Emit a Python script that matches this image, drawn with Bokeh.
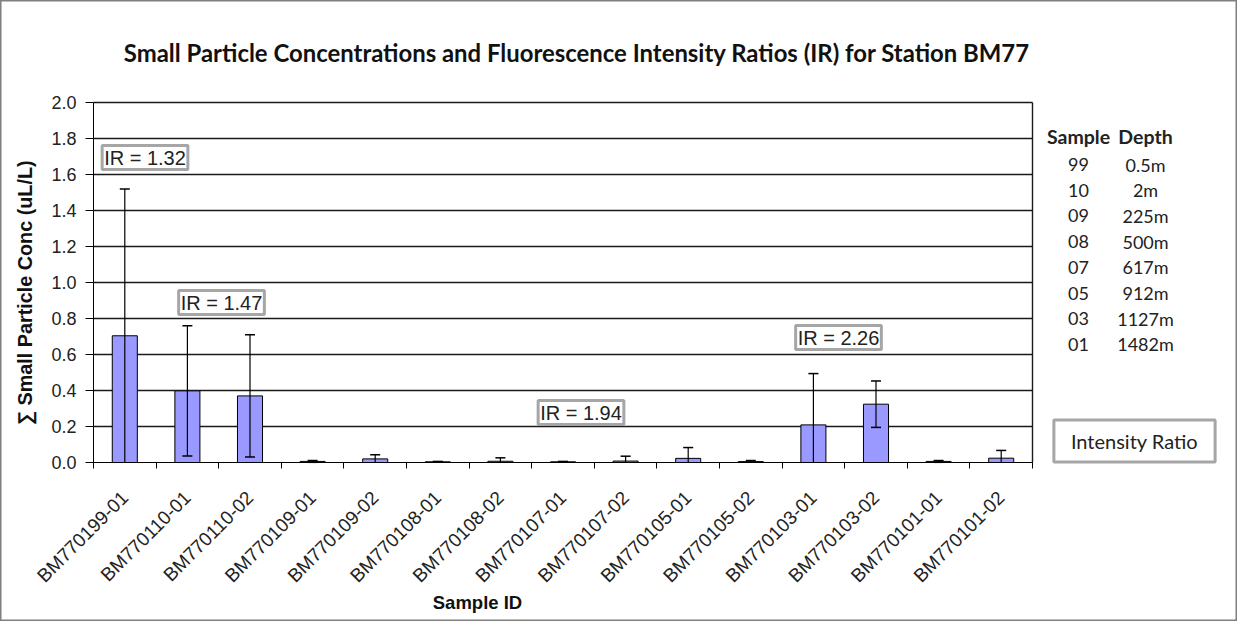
import numpy as np
from bokeh.plotting import figure
from bokeh.models import ColumnDataSource, FixedTicker, Label, Range1d
from bokeh.embed import file_html
from bokeh.resources import INLINE

# ---------------- data ----------------
samples = ["BM770199-01", "BM770110-01", "BM770110-02", "BM770109-01", "BM770109-02",
           "BM770108-01", "BM770108-02", "BM770107-01", "BM770107-02", "BM770105-01",
           "BM770105-02", "BM770103-01", "BM770103-02", "BM770101-01", "BM770101-02"]
conc = [0.704, 0.398, 0.370, 0.006, 0.020, 0.004, 0.007, 0.004, 0.008, 0.023,
        0.005, 0.209, 0.324, 0.006, 0.024]
conc_err = [0.815, 0.362, 0.340, 0.005, 0.023, 0.002, 0.019, 0.002, 0.027, 0.060,
            0.006, 0.285, 0.129, 0.005, 0.043]
ir_texts = ["IR = 1.32", "IR = 1.47", "IR = 1.94", "IR = 2.26"]
depth_codes = ["99", "10", "09", "08", "07", "05", "03", "01"]
depth_values = ["0.5m", "2m", "225m", "500m", "617m", "912m", "1127m", "1482m"]
y_ticks = [0.0, 0.2, 0.4, 0.6, 0.8, 1.0, 1.2, 1.4, 1.6, 1.8, 2.0]

# ---------------- layout ----------------
W, H = 1237, 621
PX_X = 62.6          # pixels per category
PX_Y = 180.0         # pixels per unit of concentration
LEFT, BASE = 93, 462 # canvas pixel of x=-0.5 and y=0


def xd(px):
    return -0.5 + (px - LEFT) / PX_X


def yd(py):
    return (BASE - py) / PX_Y


n = len(samples)
xs = list(range(n))
ir_pos = [(xd(144.5), yd(157)), (xd(221), yd(302)), (xd(580.5), yd(412)), (xd(838), yd(337))]

p = figure(width=W, height=H, x_range=Range1d(xd(0), xd(W)), y_range=Range1d(yd(H), yd(0)),
           output_backend="svg", toolbar_location=None,
           min_border_left=0, min_border_right=0, min_border_top=0, min_border_bottom=0)
p.background_fill_color = "white"
p.border_fill_color = "white"
p.outline_line_color = "#7f7f7f"
p.outline_line_width = 2
p.xgrid.visible = False
p.ygrid.visible = False

# plot-area grid lines and right border
grid_y = [t for t in y_ticks if t > 0]
p.segment(x0=[-0.5] * len(grid_y), y0=grid_y, x1=[n - 0.5] * len(grid_y), y1=grid_y,
          line_color="#1a1a1a", line_width=1.4)
p.segment(x0=[n - 0.5], y0=[0], x1=[n - 0.5], y1=[y_ticks[-1]], line_color="#1a1a1a", line_width=1.4)

# y axis
yax = p.yaxis[0]
yax.fixed_location = -0.5
yax.bounds = (0, y_ticks[-1])
yax.ticker = FixedTicker(ticks=y_ticks)
yax.major_label_overrides = {t: f"{t:.1f}" for t in y_ticks}
yax.major_tick_out = 8
yax.major_tick_in = 0
yax.minor_tick_line_color = None
yax.major_label_standoff = 9
yax.major_label_text_font = "Liberation Sans"
yax.major_label_text_font_size = "18px"
yax.major_label_text_color = "#222222"
yax.axis_line_color = "black"
yax.major_tick_line_color = "black"

# x axis
xax = p.xaxis[0]
xax.fixed_location = 0
xax.bounds = (-0.5, n - 0.5)
xax.ticker = FixedTicker(ticks=xs, minor_ticks=[x - 0.5 for x in range(n + 1)])
xax.major_label_overrides = {i: s for i, s in enumerate(samples)}
xax.major_label_orientation = np.pi / 4
xax.major_tick_out = 0
xax.major_tick_in = 0
xax.minor_tick_out = 6
xax.minor_tick_in = 0
xax.minor_tick_line_color = "black"
xax.major_label_standoff = 26
xax.major_label_text_font = "Liberation Sans"
xax.major_label_text_font_size = "19px"
xax.major_label_text_color = "#222222"
xax.axis_line_color = "black"

# bars and error bars (lower part clipped at the axis, as in the original)
upper = [c + e for c, e in zip(conc, conc_err)]
lower = [max(c - e, 0.0) for c, e in zip(conc, conc_err)]
cap = 0.08
src = ColumnDataSource(dict(x=xs, top=conc, lower=lower, upper=upper,
                            xl=[x - cap for x in xs], xr=[x + cap for x in xs]))
p.vbar(x="x", top="top", width=0.4, fill_color="#9999FF", line_color="black",
       line_width=1, source=src)
p.segment(x0="x", y0="lower", x1="x", y1="upper", line_color="black", line_width=1.2, source=src)
p.segment(x0="xl", y0="upper", x1="xr", y1="upper", line_color="black", line_width=1.5, source=src)
low_idx = [i for i, (c, e) in enumerate(zip(conc, conc_err)) if c - e >= 0]
p.segment(x0=[xs[i] - cap for i in low_idx], y0=[lower[i] for i in low_idx],
          x1=[xs[i] + cap for i in low_idx], y1=[lower[i] for i in low_idx],
          line_color="black", line_width=1.5)

# IR annotation boxes
for txt, (lx, ly) in zip(ir_texts, ir_pos):
    p.add_layout(Label(x=lx, y=ly, text=txt, text_align="center", text_baseline="middle",
                       text_font="Liberation Sans", text_font_size="20px", text_color="#222222",
                       border_line_color="#a6a6a6", border_line_width=3,
                       background_fill_color="white", padding=(2, 1)))

# title
p.add_layout(Label(x=xd(576.5), y=yd(52), text="Small Particle Concentrations and Fluorescence Intensity Ratios (IR) for Station BM77",
                   text_align="center", text_baseline="middle", text_font="Lato",
                   text_font_style="bold", text_font_size="23.9px", text_color="#111111"))

# axis titles
p.add_layout(Label(x=xd(24), y=yd(289.5), text="\u2211 Small Particle Conc  (uL/L)", angle=np.pi / 2,
                   text_align="center", text_baseline="middle", text_font="Liberation Sans",
                   text_font_style="bold", text_font_size="19.8px", text_color="#111111"))
p.add_layout(Label(x=xd(477), y=yd(602), text="Sample ID", text_align="center", text_baseline="middle",
                   text_font="Liberation Sans", text_font_style="bold", text_font_size="18.5px",
                   text_color="#111111"))

# side table
col_code_x, col_depth_x = xd(1078), xd(1145)
row_step = 25.7
p.add_layout(Label(x=col_code_x, y=yd(136), text="Sample", text_align="center", text_baseline="middle",
                   text_font="Lato", text_font_style="bold", text_font_size="19.5px", text_color="#222222"))
p.add_layout(Label(x=col_depth_x, y=yd(136), text="Depth", text_align="center", text_baseline="middle",
                   text_font="Lato", text_font_style="bold", text_font_size="19.5px", text_color="#222222"))
for i, (code, dep) in enumerate(zip(depth_codes, depth_values)):
    yy = yd(164 + i * row_step)
    p.add_layout(Label(x=col_code_x, y=yy, text=code, text_align="center", text_baseline="middle",
                       text_font="Lato", text_font_size="18px", text_color="#222222"))
    p.add_layout(Label(x=col_depth_x, y=yy, text=dep, text_align="center", text_baseline="middle",
                       text_font="Lato", text_font_size="18px", text_color="#222222"))

p.add_layout(Label(x=xd(1134), y=yd(440.5), text="Intensity Ratio", text_align="center", text_baseline="middle",
                   text_font="Lato", text_font_size="20px", text_color="#222222",
                   border_line_color="#a6a6a6", border_line_width=3, background_fill_color="white",
                   padding=(17, 9)))

open("out.html", "w").write(file_html(p, INLINE))
